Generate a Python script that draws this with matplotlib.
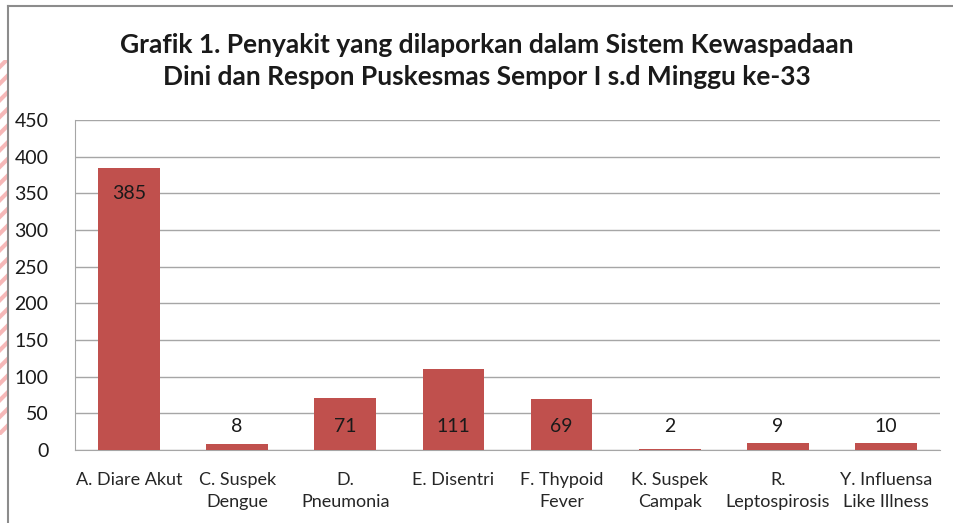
import matplotlib
matplotlib.use('Agg')
import matplotlib.pyplot as plt
from matplotlib.patches import Rectangle
from matplotlib.lines import Line2D

categories = ['A. Diare Akut', 'C. Suspek\nDengue', 'D.\nPneumonia', 'E. Disentri',
              'F. Thypoid\nFever', 'K. Suspek\nCampak', 'R.\nLeptospirosis', 'Y. Influensa\nLike Illness']
values = [385, 8, 71, 111, 69, 2, 9, 10]
yticks = [0, 50, 100, 150, 200, 250, 300, 350, 400, 450]
title = 'Grafik 1. Penyakit yang dilaporkan dalam Sistem Kewaspadaan\nDini dan Respon Puskesmas Sempor I s.d Minggu ke-33'

plt.rcParams['font.family'] = ['Lato', 'DejaVu Sans']

fig = plt.figure(figsize=(9.54, 5.23), dpi=100)
fig.patch.set_facecolor('white')

# plot area in pixels: x 75..940, y 120..450 (from top)
W, H = 954, 523
ax = fig.add_axes([75 / W, 1 - 450 / H, 865 / W, 330 / H])

bar_color = '#C0504D'
x = range(len(categories))
ax.bar(x, values, width=0.57, color=bar_color, zorder=3)

for i, v in enumerate(values):
    # label inside the tall bar, near the base for the others
    ly = v - 35 if v > 200 else 32
    ax.text(i, ly, str(v), ha='center', va='center', fontsize=14, color='#1a1a1a', zorder=4)

ax.set_xlim(-0.5, len(categories) - 0.5)
ax.set_ylim(0, 450)
ax.set_yticks(yticks)
ax.set_yticklabels([str(t) for t in yticks], fontsize=14, color='#1a1a1a')
ax.set_xticks(list(x))
ax.set_xticklabels(categories, fontsize=13, color='#262626', linespacing=1.45)
ax.tick_params(axis='both', length=0)
ax.tick_params(axis='y', pad=19)
ax.tick_params(axis='x', pad=16)

ax.grid(axis='y', color='#a6a6a6', linewidth=1, zorder=0)
for s in ['top', 'right']:
    ax.spines[s].set_visible(False)
ax.spines['left'].set_color('#a6a6a6')
ax.spines['bottom'].set_color('#a6a6a6')

fig.text(487 / W, 1 - 61 / H, title, ha='center', va='center', fontsize=19,
         fontweight='bold', color='#1a1a1a', linespacing=1.42)

# outer frame (left and top edges visible)
fig.add_artist(Line2D([8 / W, 8 / W], [0, 1 - 6 / H], color='#8c8c8c', linewidth=1.5,
                      transform=fig.transFigure))
fig.add_artist(Line2D([8 / W, 1], [1 - 6 / H, 1 - 6 / H], color='#8c8c8c', linewidth=1.5,
                      transform=fig.transFigure))

# pink striped strip on the left edge
plt.rcParams['hatch.color'] = '#f6b8b8'
plt.rcParams['hatch.linewidth'] = 3
stripe = Rectangle((0, 1 - 435 / H), 7 / W, 375 / H, transform=fig.transFigure,
                   facecolor='white', edgecolor='#f6b8b8', hatch='//', linewidth=0)
fig.add_artist(stripe)

fig.savefig('out.png', dpi=100, facecolor='white')
